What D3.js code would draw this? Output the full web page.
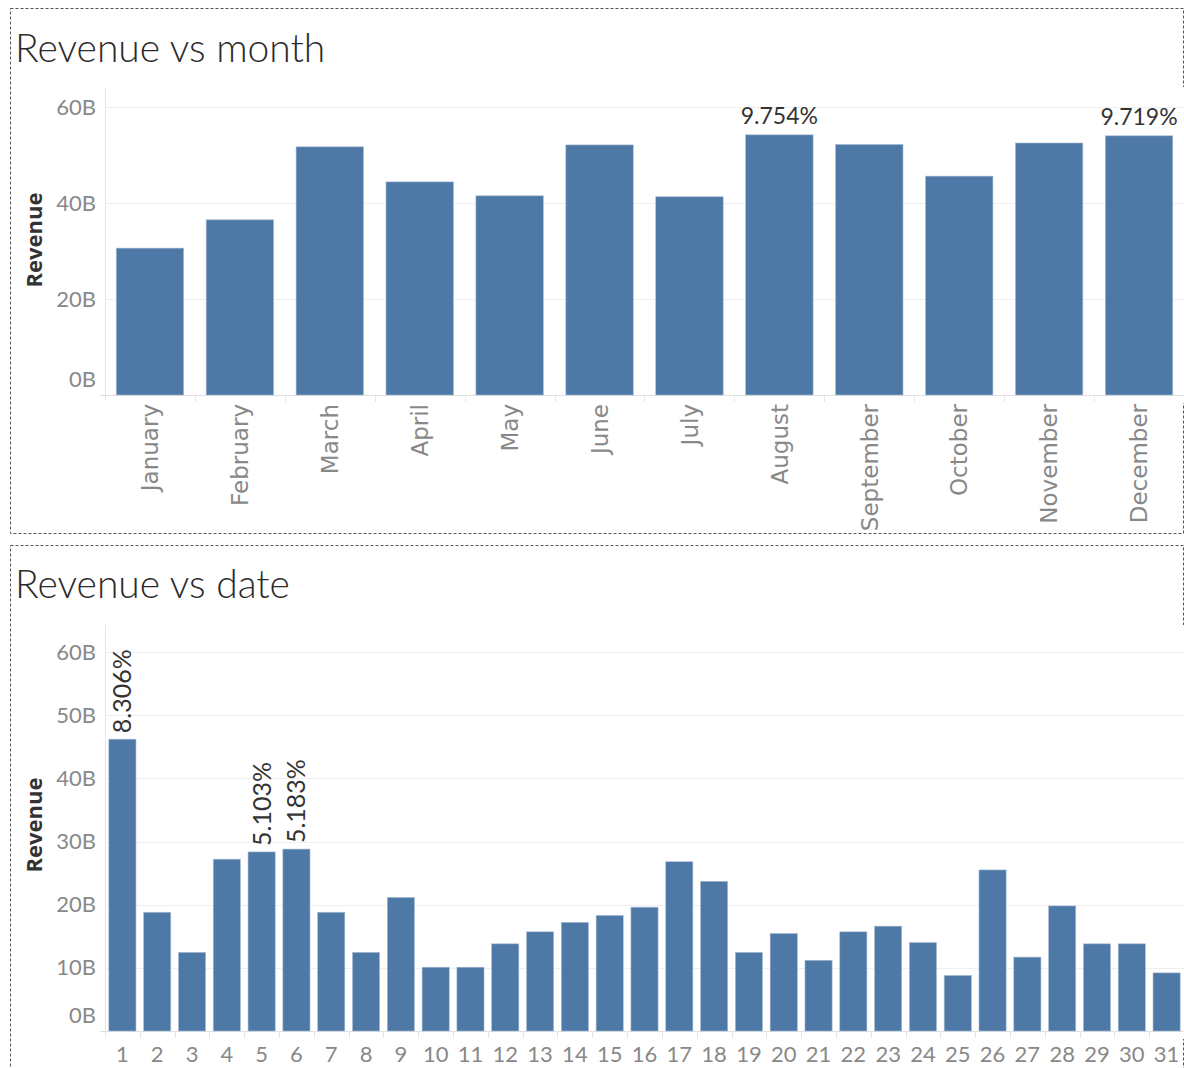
<!DOCTYPE html>
<html>
<head>
<meta charset="utf-8">
<script src="https://cdn.jsdelivr.net/npm/d3@7"></script>
<style>
  body { margin: 0; background: #fff; }
  text { font-family: Lato, "Open Sans", sans-serif; }
</style>
</head>
<body>
<div id="chart"></div>
<script>
// doanh thu theo tháng (tỷ)
const months = ["January", "February", "March", "April", "May", "June", "July",
  "August", "September", "October", "November", "December"];
const monthRevenue = [30.6, 36.5, 51.7, 44.4, 41.5, 52.1, 41.3, 54.2, 52.2, 45.6, 52.5, 54.0];
const monthLabel = [null, null, null, null, null, null, null, "9.754%", null, null, null, "9.719%"];
const monthTicks = [0, 20, 40, 60];

// doanh thu theo ngày trong tháng (tỷ)
const days = ["1", "2", "3", "4", "5", "6", "7", "8", "9", "10", "11", "12", "13", "14", "15", "16",
  "17", "18", "19", "20", "21", "22", "23", "24", "25", "26", "27", "28", "29", "30", "31"];
const dayRevenue = [46.2, 18.8, 12.45, 27.2, 28.35, 28.8, 18.8, 12.45, 21.15, 10.1, 10.1, 13.8, 15.7, 17.2,
  18.3, 19.6, 26.8, 23.7, 12.45, 15.45, 11.2, 15.7, 16.6, 14.0, 8.8, 25.5, 11.7, 19.8, 13.8, 13.8, 9.2];
const dayLabel = ["8.306%", null, null, null, "5.103%", "5.183%"];
const dayTicks = [0, 10, 20, 30, 40, 50, 60];

const W = 1184, H = 1068;
const barColor = "#4e79a7";

const svg = d3.select("#chart")
  .append("svg")
  .attr("width", W)
  .attr("height", H);

function drawPanel(opt) {
  const g = svg.append("g");

  // khung nét đứt
  g.append("rect")
    .attr("x", 10.5).attr("y", opt.boxTop + 0.5)
    .attr("width", 1173).attr("height", opt.boxH)
    .attr("fill", "none")
    .attr("stroke", "#555")
    .attr("stroke-dasharray", "3,2");

  // nền vùng vẽ (che khung bên phải)
  g.append("rect")
    .attr("x", 105).attr("y", opt.paneTop)
    .attr("width", 1079).attr("height", opt.base + 8 - opt.paneTop)
    .attr("fill", "#fff");

  g.append("text")
    .attr("x", 15)
    .attr("y", opt.titleY)
    .attr("font-size", "39px")
    .attr("font-weight", 300)
    .attr("fill", "#2b2b2b")
    .text(opt.title);

  const x = d3.scaleBand()
    .domain(opt.cats)
    .range([105, 1184])
    .paddingInner(opt.pad)
    .paddingOuter(opt.pad / 2);

  const y = d3.scaleLinear()
    .domain([0, 60])
    .range([opt.base, opt.top60]);

  // lưới ngang
  g.append("g")
    .selectAll("line")
    .data(opt.ticks.filter(d => d > 0))
    .enter()
    .append("line")
    .attr("x1", 105).attr("x2", 1184)
    .attr("y1", d => Math.round(y(d)) + 0.5)
    .attr("y2", d => Math.round(y(d)) + 0.5)
    .attr("stroke", "#efefef");

  g.append("line")
    .attr("x1", 105.5).attr("x2", 105.5)
    .attr("y1", opt.paneTop).attr("y2", opt.base + 6)
    .attr("stroke", "#e6e6e6");

  g.append("line")
    .attr("x1", 100).attr("x2", 1184)
    .attr("y1", opt.base + 0.5).attr("y2", opt.base + 0.5)
    .attr("stroke", "#e0e0e0");

  // vạch chia giữa các cột
  g.append("g")
    .selectAll("line")
    .data(opt.cats.slice(1))
    .enter()
    .append("line")
    .attr("x1", d => Math.round(x(d) - x.step() * x.paddingInner() / 2) + 0.5)
    .attr("x2", d => Math.round(x(d) - x.step() * x.paddingInner() / 2) + 0.5)
    .attr("y1", opt.base).attr("y2", opt.base + 7)
    .attr("stroke", "#e6e6e6");

  const yAxis = g.append("g")
    .attr("transform", "translate(105,0)")
    .call(d3.axisLeft(y).tickValues(opt.ticks).tickSize(0).tickPadding(9).tickFormat(d => d + "B"));
  yAxis.select(".domain").remove();
  yAxis.selectAll("text")
    .attr("fill", "#888")
    .style("font-size", "22px")
    .attr("y", d => d === 0 ? -16 : 0);

  g.append("text")
    .attr("transform", `translate(42,${opt.axisTitleY}) rotate(-90)`)
    .attr("text-anchor", "middle")
    .attr("font-size", "22px")
    .attr("font-weight", "bold")
    .style("font-family", "'Open Sans', sans-serif")
    .attr("fill", "#333")
    .text("Revenue");

  g.selectAll(".bar")
    .data(opt.cats)
    .enter()
    .append("rect")
    .attr("class", "bar")
    .attr("x", d => x(d))
    .attr("y", (d, i) => y(opt.values[i]))
    .attr("width", x.bandwidth())
    .attr("height", (d, i) => opt.base - y(opt.values[i]))
    .attr("fill", barColor)
    .attr("stroke", "#a9bdd4")
    .attr("stroke-width", 0.6);

  const xAxis = g.append("g")
    .attr("transform", `translate(0,${opt.base})`)
    .call(d3.axisBottom(x).tickSize(0).tickPadding(opt.rotateX ? 10 : 15));
  xAxis.select(".domain").remove();
  const xt = xAxis.selectAll("text")
    .attr("fill", "#888")
    .style("font-size", "22px");
  if (opt.rotateX) {
    xt.attr("transform", "rotate(-90)")
      .attr("text-anchor", "end")
      .attr("x", -9)
      .attr("y", 0)
      .attr("dy", "0.36em")
      .style("font-family", "'DejaVu Sans', sans-serif")
      .style("font-size", "23px");
  }

  const lab = opt.cats.map((c, i) => ({c: c, v: opt.values[i], t: opt.labels[i]})).filter(d => d.t);
  if (opt.rotateLabels) {
    g.selectAll(".bar-label")
      .data(lab)
      .enter()
      .append("text")
      .attr("class", "bar-label")
      .attr("transform", d => `translate(${x(d.c) + x.bandwidth() / 2},${y(d.v) - 6}) rotate(-90)`)
      .attr("dy", "0.36em")
      .attr("font-size", "25px")
      .attr("fill", "#333")
      .text(d => d.t);
  } else {
    g.selectAll(".bar-label")
      .data(lab)
      .enter()
      .append("text")
      .attr("class", "bar-label")
      .attr("x", d => x(d.c) + x.bandwidth() / 2)
      .attr("y", d => y(d.v) - 11)
      .attr("text-anchor", "middle")
      .attr("font-size", "23px")
      .attr("fill", "#333")
      .text(d => d.t);
  }
}

drawPanel({
  title: "Revenue vs month", boxTop: 8, boxH: 525, titleY: 62,
  cats: months, values: monthRevenue, labels: monthLabel, ticks: monthTicks,
  base: 395, top60: 107, paneTop: 87, pad: 0.25, axisTitleY: 240,
  rotateX: true, rotateLabels: false
});

drawPanel({
  title: "Revenue vs date", boxTop: 545, boxH: 540, titleY: 598,
  cats: days, values: dayRevenue, labels: dayLabel, ticks: dayTicks,
  base: 1031, top60: 652, paneTop: 625, pad: 0.22, axisTitleY: 825,
  rotateX: false, rotateLabels: true
});
</script>
</body>
</html>
